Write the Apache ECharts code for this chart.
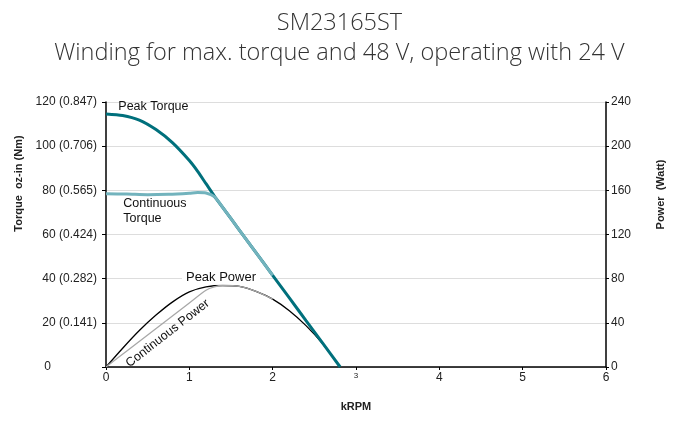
<!DOCTYPE html>
<html><head><meta charset="utf-8">
<script src="https://cdn.jsdelivr.net/npm/echarts@6/dist/echarts.min.js"></script>
<style>html,body{margin:0;padding:0;background:#fff}#c{width:679px;height:422px}</style>
</head><body><div id="c"></div>
<script>
const titleLines = ['SM23165ST', 'Winding for max. torque and 48 V, operating with 24 V'];
const xTicks = [0, 1, 2, 3, 4, 5, 6];
const leftTickLabels = ['0', '20 (0.141)', '40 (0.282)', '60 (0.424)', '80 (0.565)', '100 (0.706)', '120 (0.847)'];
const rightTicks = [0, 40, 80, 120, 160, 200, 240];

const peakTorqueX = [0, 0.2, 0.4, 0.6, 0.8, 1.0, 1.1, 1.2, 1.3, 1.4, 1.6, 1.8, 2.0, 2.2, 2.4, 2.6, 2.81];
const peakTorqueY = [114.6, 113.9, 111.8, 107.5, 101.5, 93.5, 88.6, 83, 77.4, 72.3, 62, 51.8, 41.5, 31.3, 21, 10.8, 0];
const contTorqueX = [0, 0.25, 0.5, 0.75, 1.0, 1.1, 1.2, 1.3, 1.4, 1.6, 1.8, 2.0];
const contTorqueY = [78.4, 78.3, 78.0, 78.2, 78.7, 79.0, 78.8, 77.2, 72.3, 62, 51.8, 41.5];
const peakPowerX = [0, 0.2, 0.4, 0.6, 0.8, 1.0, 1.2, 1.4, 1.6, 1.8, 2.0, 2.2, 2.4, 2.6, 2.81];
const peakPowerY = [0, 17, 33, 47, 59, 68, 72.5, 73.8, 73, 68.5, 61.5, 51, 37.5, 21, 0];
const contPowerX = [0, 0.25, 0.5, 0.75, 1.0, 1.2, 1.3, 1.4, 1.6, 1.8, 2.0];
const contPowerY = [0, 14.5, 29, 43.5, 58, 69.5, 72.5, 73.8, 73, 68.5, 61.5];

const zip = (xs, ys) => xs.map((x, i) => [x, ys[i]]);
const lbl = {fontFamily: 'Liberation Sans', fontSize: 12, color: '#222'};
const nameStyle = {fontFamily: 'Liberation Sans', fontSize: 11, fontWeight: 'bold', color: '#222'};

const chart = echarts.init(document.getElementById('c'));
chart.setOption({
  animation: false,
  title: {
    text: titleLines.join('\n'), left: 'center', top: 3,
    textStyle: {fontFamily: 'Open Sans', fontWeight: 300, fontSize: 23.5, color: '#333', lineHeight: 30}
  },
  grid: {left: 106, right: 73, top: 102, bottom: 55},
  xAxis: {
    type: 'value', min: 0, max: 6, interval: 1,
    name: 'kRPM', nameLocation: 'middle', nameGap: 34,
    nameTextStyle: nameStyle,
    axisLine: {lineStyle: {color: '#000', width: 1.5}},
    axisTick: {show: true, length: 3, lineStyle: {color: '#000'}},
    splitLine: {show: false},
    axisLabel: Object.assign({}, lbl, {
      margin: 5,
      formatter: v => v === 3 ? '{s|3}' : String(v),
      rich: {s: {fontFamily: 'Liberation Sans', fontSize: 8, color: '#222'}}
    })
  },
  yAxis: [{
    type: 'value', min: 0, max: 120, interval: 20,
    name: 'Torque  oz-in (Nm)', nameLocation: 'middle', nameGap: 80, nameRotate: 90,
    nameTextStyle: Object.assign({}, nameStyle, {padding: [0, 0, 0, 102]}),
    axisLine: {show: true, lineStyle: {color: '#000', width: 1.5}},
    axisTick: {show: true, length: 4, lineStyle: {color: '#000'}},
    splitLine: {show: true, lineStyle: {color: '#ddd', width: 1}},
    axisLabel: Object.assign({}, lbl, {
      margin: 9,
      formatter: (v) => {
        const t = leftTickLabels[Math.round(v / 20)];
        return v === 0 ? '{z|' + t + '}' : t;
      },
      rich: {z: {fontFamily: 'Liberation Sans', fontSize: 12, color: '#222', padding: [0, 46, 0, 0]}}
    })
  }, {
    type: 'value', min: 0, max: 240, interval: 40, position: 'right',
    name: 'Power  (Watt)', nameLocation: 'middle', nameGap: 49, nameRotate: 90,
    nameTextStyle: Object.assign({}, nameStyle, {padding: [0, 0, 0, 80]}),
    axisLine: {show: true, lineStyle: {color: '#000', width: 1.5}},
    axisTick: {show: true, length: 3, lineStyle: {color: '#000'}},
    splitLine: {show: false},
    axisLabel: Object.assign({}, lbl, {margin: 5, formatter: v => rightTicks.includes(v) ? String(v) : ''})
  }],
  series: [{
    name: 'Peak Torque', type: 'line', data: zip(peakTorqueX, peakTorqueY),
    smooth: 0.25, symbol: 'none', lineStyle: {color: '#00707c', width: 3}, z: 3,
    markPoint: {
      symbol: 'circle', symbolSize: 0,
      label: Object.assign({}, lbl, {show: true, position: 'right', distance: 4, color: '#111', fontSize: 12.5}),
      data: [{coord: [0.1, 117.8], value: 0, label: {formatter: 'Peak Torque'}}]
    }
  }, {
    name: 'Continuous Torque', type: 'line', data: zip(contTorqueX, contTorqueY),
    smooth: 0.25, symbol: 'none', lineStyle: {color: '#72b3bd', width: 3}, z: 4,
    markPoint: {
      symbol: 'circle', symbolSize: 0,
      label: Object.assign({}, lbl, {show: true, position: 'right', distance: 4, color: '#111', fontSize: 12.5, lineHeight: 15, align: 'left'}),
      data: [{coord: [0.16, 70.4], value: 0, label: {formatter: 'Continuous\nTorque'}}]
    }
  }, {
    name: 'Peak Power', type: 'line', yAxisIndex: 1, data: zip(peakPowerX, peakPowerY),
    smooth: 0.25, symbol: 'none', lineStyle: {color: '#000', width: 1.3}, z: 2,
    markPoint: {
      symbol: 'circle', symbolSize: 0,
      label: Object.assign({}, lbl, {show: true, position: 'inside', color: '#111', fontSize: 13, backgroundColor: '#fff', padding: [1, 4]}),
      data: [{coord: [1.38, 81.5], value: 0, label: {formatter: 'Peak Power'}}]
    }
  }, {
    name: 'Continuous Power', type: 'line', yAxisIndex: 1, data: zip(contPowerX, contPowerY),
    smooth: 0.25, symbol: 'none', lineStyle: {color: '#a8a8a8', width: 1.3}, z: 2.5,
    markPoint: {
      symbol: 'circle', symbolSize: 0,
      label: Object.assign({}, lbl, {show: true, position: 'inside', color: '#111', fontSize: 12.5, rotate: 38}),
      data: [{coord: [0.74, 30.5], value: 0, label: {formatter: 'Continuous Power'}}]
    }
  }]
});
</script></body></html>
